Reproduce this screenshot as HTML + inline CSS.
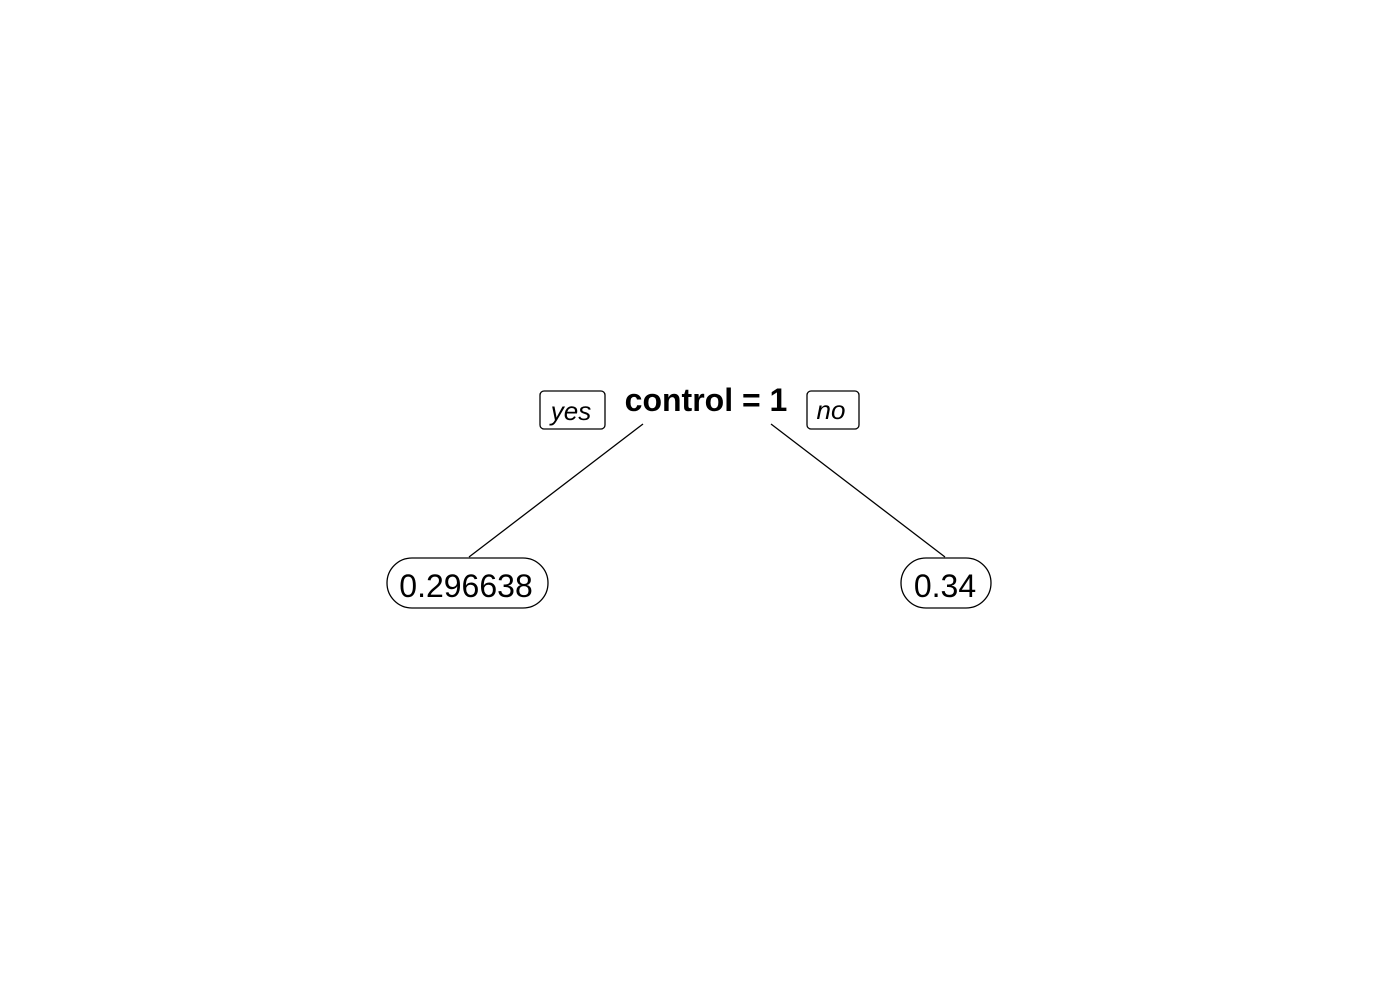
<!DOCTYPE html>
<html><head><style>html,body{margin:0;padding:0;background:#fff}</style></head>
<body>
<svg width="1400" height="1000" xmlns="http://www.w3.org/2000/svg" font-family="Liberation Sans, Arial, sans-serif">
<rect width="1400" height="1000" fill="#fff"/>
<line x1="643" y1="424" x2="469" y2="557" stroke="#000" stroke-width="1.3"/>
<line x1="771" y1="424" x2="945" y2="557" stroke="#000" stroke-width="1.3"/>
<rect x="540" y="391" width="65" height="38" rx="4" fill="#fff" stroke="#000" stroke-width="1.3"/>
<text x="571" y="420" font-size="26" font-style="italic" text-anchor="middle">yes</text>
<rect x="807" y="391" width="52" height="38" rx="4" fill="#fff" stroke="#000" stroke-width="1.3"/>
<text x="831" y="419" font-size="26" font-style="italic" text-anchor="middle">no</text>
<text x="706" y="411" font-size="32" font-weight="bold" text-anchor="middle">control = 1</text>
<rect x="387" y="558" width="161" height="50" rx="25" fill="#fff" stroke="#000" stroke-width="1.3"/>
<text x="466" y="597" font-size="32" text-anchor="middle">0.296638</text>
<rect x="901" y="558" width="90" height="50" rx="25" fill="#fff" stroke="#000" stroke-width="1.3"/>
<text x="945" y="597" font-size="32" text-anchor="middle">0.34</text>
</svg>
</body></html>
